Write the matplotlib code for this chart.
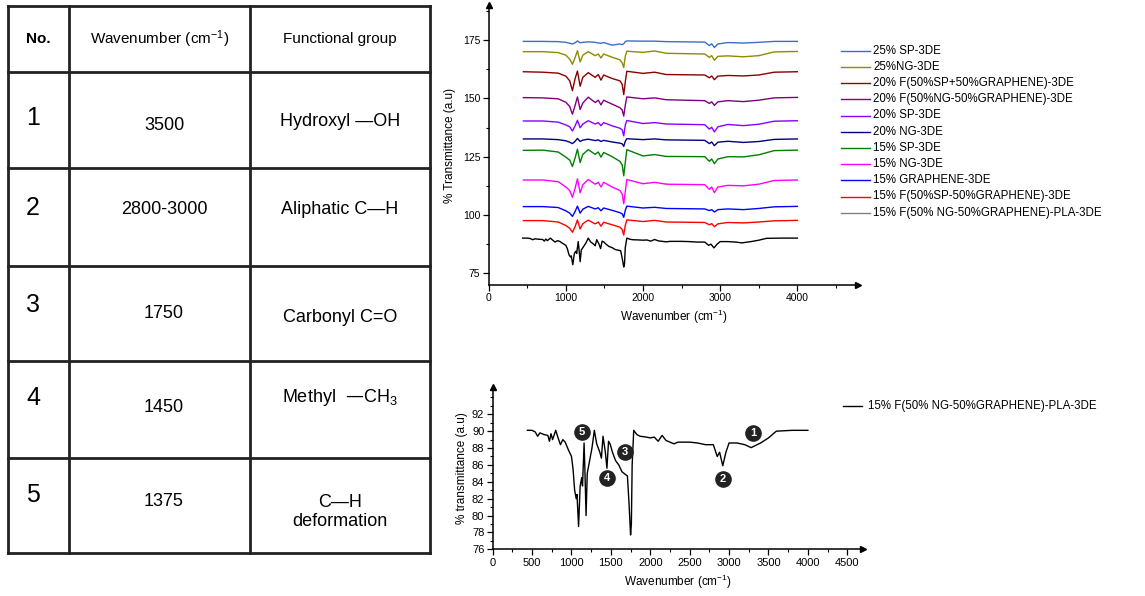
import matplotlib.pyplot as plt
from matplotlib.lines import Line2D
from matplotlib.ticker import MultipleLocator

plt.rcParams['font.family'] = ['Liberation Sans', 'DejaVu Sans']
plt.rcParams['mathtext.default'] = 'regular'

W, H = 1145, 596

# ---- table ----
table_header = ['No.', 'Wavenumber (cm$^{-1}$)', 'Functional group']
peak_no = ['1', '2', '3', '4', '5']
peak_wn = ['3500', '2800-3000', '1750', '1450', '1375']
peak_group = ['Hydroxyl —OH', 'Aliphatic C—H', 'Carbonyl C=O',
              'Methyl  —CH$_3$', 'C—H\ndeformation']

# ---- stacked FTIR spectra (top chart) ----
wn_top = [450, 700, 900, 1000, 1050, 1085, 1120, 1150, 1185, 1220,
          1290, 1380, 1420, 1455, 1490, 1600, 1700, 1730, 1750, 1770,
          1790, 2000, 2150, 2300, 2800, 2860, 2890, 2925, 2970, 3100,
          3300, 3500, 3700, 4000]

sp25 = [174.4, 174.4, 174.3, 174.0, 173.6, 173.3, 173.8, 174.6, 173.8, 174.0,
        174.2, 174.0, 173.7, 173.6, 173.9, 172.8, 173.3, 173.0, 173.4, 174.3,
        174.6, 174.5, 174.5, 174.3, 174.1, 172.6, 173.4, 171.8, 173.3, 173.9,
        173.7, 174.0, 174.4, 174.4]
ng25 = [170.0, 170.0, 169.6, 168.5, 166.8, 164.6, 167.5, 170.4, 165.6, 168.5,
        170.0, 168.3, 169.0, 167.3, 169.0, 167.6, 166.5, 165.2, 163.2, 168.0,
        170.2, 169.7, 170.3, 169.3, 169.0, 167.5, 168.3, 166.3, 168.0, 168.2,
        167.8, 168.3, 169.9, 170.1]
f20_sp_g = [161.4, 161.2, 160.8, 159.5, 157.5, 153.3, 158.5, 161.7, 155.2, 159.0,
            161.0, 159.0, 160.2, 157.8, 160.0, 158.5, 157.5, 156.0, 151.6, 157.0,
            161.6, 160.7, 161.2, 160.2, 160.0, 158.8, 159.6, 158.0, 159.5, 159.8,
            159.6, 160.0, 161.2, 161.4]
f20_ng_g = [150.3, 150.2, 149.8, 148.3, 146.5, 143.2, 147.0, 150.6, 145.2, 148.0,
            150.5, 148.2, 149.2, 147.2, 149.2, 147.5, 146.0, 145.0, 142.4, 147.0,
            150.6, 149.8, 150.2, 149.4, 149.0, 147.8, 148.5, 147.0, 148.5, 149.0,
            148.6, 149.2, 150.2, 150.4]
sp20 = [140.3, 140.3, 139.8, 138.6, 137.8, 136.0, 138.2, 140.6, 137.4, 139.0,
        140.4, 139.0, 139.6, 138.3, 139.6, 138.2, 137.2, 136.5, 133.9, 138.5,
        140.5, 139.2, 139.6, 139.0, 138.7, 136.8, 137.6, 135.6, 137.8, 138.8,
        138.3, 138.9, 140.2, 140.4]
ng20 = [132.6, 132.6, 132.3, 131.8, 131.2, 130.6, 131.6, 132.8, 131.5, 132.1,
        132.5, 131.9, 132.2, 131.5, 132.0, 131.3, 130.8, 130.5, 129.4, 131.6,
        132.7, 132.3, 132.6, 132.2, 132.0, 130.6, 131.3, 129.7, 131.2, 131.6,
        131.1, 131.5, 132.4, 132.6]
sp15 = [127.7, 127.8, 127.0, 124.8, 123.5, 120.8, 124.5, 128.2, 122.5, 126.0,
        128.0, 126.0, 127.0, 124.8, 126.8, 125.0, 123.0, 121.5, 116.8, 122.5,
        128.0, 125.3, 125.9, 125.1, 125.0, 123.0, 124.0, 122.0, 124.0, 125.0,
        124.9, 125.8, 127.6, 127.8]
ng15 = [115.0, 115.0, 114.3, 112.0, 110.5, 107.6, 111.5, 115.5, 109.5, 113.0,
        115.2, 113.2, 114.0, 112.0, 114.0, 112.0, 110.5, 109.0, 104.8, 110.0,
        115.2, 113.4, 114.0, 113.2, 113.0, 111.0, 112.0, 109.6, 112.0, 112.7,
        112.5, 113.2, 114.8, 115.0]
gr15 = [103.6, 103.6, 103.2, 101.8, 100.8, 99.4, 101.5, 103.8, 100.8, 102.5,
        103.7, 102.6, 103.1, 101.8, 103.0, 102.0, 101.0, 100.5, 99.0, 102.0,
        103.8, 103.0, 103.3, 102.8, 102.6, 101.9, 102.3, 101.3, 102.3, 102.6,
        102.3, 102.8, 103.5, 103.7]
f15_sp_g = [97.6, 97.6, 97.0, 95.5, 94.3, 92.6, 95.0, 97.9, 94.0, 96.3,
            97.8, 96.2, 97.0, 95.2, 96.9, 95.8, 94.8, 93.8, 91.4, 95.5,
            97.9, 97.2, 97.7, 97.0, 96.8, 95.8, 96.3, 95.0, 96.2, 96.8,
            96.6, 97.0, 97.5, 97.7]

# reference sample (also drawn alone in the bottom chart)
wn_ref = [440, 500, 540, 570, 600, 650, 700, 720, 740, 760,
          800, 830, 860, 890, 920, 960, 1000, 1020, 1040, 1060,
          1070, 1090, 1110, 1130, 1140, 1160, 1170, 1185, 1200, 1230,
          1260, 1290, 1320, 1360, 1380, 1400, 1430, 1450, 1470, 1490,
          1520, 1560, 1600, 1640, 1680, 1710, 1730, 1750, 1760, 1770,
          1790, 1830, 1870, 1950, 2000, 2050, 2100, 2150, 2200, 2300,
          2350, 2500, 2600, 2700, 2800, 2850, 2880, 2920, 2960, 3000,
          3100, 3200, 3280, 3400, 3500, 3600, 3800, 4000]
t_ref = [90.1, 90.1, 89.9, 89.4, 89.8, 89.6, 89.5, 88.8, 89.7, 89.0,
         90.1, 89.2, 88.4, 89.0, 88.7, 87.8, 87.0, 85.5, 83.0, 82.0,
         82.5, 78.7, 83.5, 84.5, 83.5, 88.6, 85.5, 80.0, 85.0, 86.5,
         88.0, 90.1, 88.5, 87.5, 86.8, 89.4, 87.5, 85.6, 88.8, 88.5,
         87.5, 86.5, 86.0, 85.2, 84.9, 84.7, 81.5, 77.7, 79.0, 86.0,
         90.1, 89.6, 89.4, 89.3, 89.2, 89.3, 88.8, 89.5, 88.9, 88.5,
         88.7, 88.7, 88.6, 88.4, 88.4, 87.0, 87.5, 85.9, 87.5, 88.6,
         88.6, 88.4, 88.05, 88.6, 89.2, 90.0, 90.1, 90.1]

labels = ['25% SP-3DE', '25%NG-3DE', '20% F(50%SP+50%GRAPHENE)-3DE',
          '20% F(50%NG-50%GRAPHENE)-3DE', '20% SP-3DE', '20% NG-3DE',
          '15% SP-3DE', '15% NG-3DE', '15% GRAPHENE-3DE',
          '15% F(50%SP-50%GRAPHENE)-3DE', '15% F(50% NG-50%GRAPHENE)-PLA-3DE']
series = [sp25, ng25, f20_sp_g, f20_ng_g, sp20, ng20, sp15, ng15, gr15, f15_sp_g, t_ref]
colors = ['#3b6fc4', '#8c8c00', '#8b0000', '#800080', '#8a00ff', '#000080',
          '#008000', '#ff00ff', '#0000ff', '#ff0000', '#000000']

# peak markers on the bottom chart
mark_no = ['5', '3', '4', '2', '1']
mark_x = [1136, 1677, 1445, 2923, 3303]
mark_y = [89.95, 87.5, 84.4, 84.3, 89.75]


def rect(l, t, r, b):
    return [l / W, 1 - b / H, (r - l) / W, (b - t) / H]


def style_axes(ax):
    for s in ('top', 'right'):
        ax.spines[s].set_visible(False)
    for s in ('left', 'bottom'):
        ax.spines[s].set_linewidth(1.1)
    ax.tick_params(which='major', direction='out', length=4, width=0.9, labelsize=7.5, pad=2)
    ax.tick_params(which='minor', direction='out', length=2.5, width=0.8)
    # arrow heads at the axis ends
    ax.plot(1, 0, '>k', ms=4, transform=ax.transAxes, clip_on=False)
    ax.plot(0, 1, '^k', ms=4, transform=ax.transAxes, clip_on=False)


fig = plt.figure(figsize=(W / 100, H / 100), dpi=100)

# overlay in pixel coordinates for the table and legends (on top, transparent)
ov = fig.add_axes([0, 0, 1, 1])
ov.set_xlim(0, W)
ov.set_ylim(H, 0)
ov.axis('off')
ov.set_zorder(10)

col_x = [8, 69, 250, 430]
row_y = [6, 72, 168, 266, 361, 458, 553]
for x in col_x:
    ov.plot([x, x], [row_y[0], row_y[-1]], color='#222222', lw=2, solid_capstyle='projecting')
for y in row_y:
    ov.plot([col_x[0], col_x[-1]], [y, y], color='#222222', lw=2, solid_capstyle='projecting')

ov.text(38, 39, table_header[0], ha='center', va='center', fontsize=11, fontweight='bold')
ov.text(160, 39, table_header[1], ha='center', va='center', fontsize=11)
ov.text(340, 39, table_header[2], ha='center', va='center', fontsize=11)
no_y = [118, 208, 305, 398, 495]
wn_y = [125, 210, 313, 408, 502]
grp_y = [122, 210, 317, 398, 512]
for i in range(5):
    ov.text(26, no_y[i], peak_no[i], ha='left', va='center', fontsize=18)
    ov.text(164, wn_y[i], peak_wn[i], ha='center', va='center', fontsize=13)
    ov.text(340, grp_y[i], peak_group[i], ha='center', va='center', fontsize=13,
            linespacing=1.1)

# ---- top chart ----
ax1 = fig.add_axes(rect(488.7, 5, 858.3, 285))
ax1.patch.set_visible(False)
for y, c in zip(series, colors):
    xs = wn_ref if y is t_ref else wn_top
    ax1.plot(xs, y, color=c, lw=1.0)
ax1.set_xlim(0, 4790)
ax1.set_ylim(70, 190)
ax1.set_xticks([0, 1000, 2000, 3000, 4000])
ax1.xaxis.set_minor_locator(MultipleLocator(500))
ax1.set_yticks([75, 100, 125, 150, 175])
ax1.yaxis.set_minor_locator(MultipleLocator(12.5))
style_axes(ax1)
ax1.set_xlabel('Wavenumber (cm$^{-1}$)', fontsize=8.5, labelpad=3)
ax1.set_ylabel('% Transmittance (a.u)', fontsize=8.5, labelpad=5)

for i, (lab, c) in enumerate(zip(labels, colors)):
    y = 50.7 + i * 16.2
    lc = '#808080' if c == '#000000' else c
    ov.add_line(Line2D([841, 870], [y, y], color=lc, lw=1.0))
    ov.text(873, y, lab, ha='left', va='center', fontsize=8.3)

# ---- bottom chart ----
ax2 = fig.add_axes(rect(492.7, 387.3, 863, 549.3))
ax2.patch.set_visible(False)
ax2.plot(wn_ref, t_ref, color='black', lw=1.0)
ax2.scatter(mark_x, mark_y, s=120, color='#222222', zorder=3)
for n, x, y in zip(mark_no, mark_x, mark_y):
    ax2.text(x, y, n, ha='center', va='center', color='white', fontsize=8,
             fontweight='bold', zorder=4)
ax2.set_xlim(0, 4700)
ax2.set_ylim(76, 95.2)
ax2.set_xticks(list(range(0, 4501, 500)))
ax2.xaxis.set_minor_locator(MultipleLocator(250))
ax2.set_yticks(list(range(76, 93, 2)))
ax2.yaxis.set_minor_locator(MultipleLocator(1))
style_axes(ax2)
ax2.tick_params(which='major', labelsize=8)
ax2.set_xlabel('Wavenumber (cm$^{-1}$)', fontsize=8.5, labelpad=4)
ax2.set_ylabel('% transmittance (a.u)', fontsize=8.5, labelpad=3)

ov.add_line(Line2D([843, 862], [406, 406], color='black', lw=1.0))
ov.text(868, 406, labels[-1], ha='left', va='center', fontsize=8.3)

fig.savefig('out.png', dpi=100)
